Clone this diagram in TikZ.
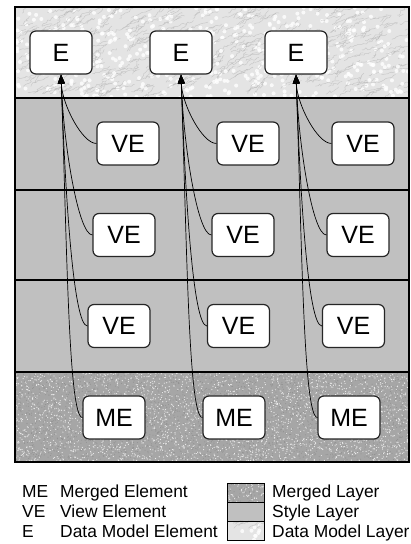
\documentclass[tikz,border=0pt]{standalone}
\usepackage{fontspec}
\setmainfont{Liberation Sans}
\usetikzlibrary{arrows.meta, decorations.pathmorphing}
\definecolor{styleGray}{HTML}{C0C0C0}
\definecolor{mergedGray}{HTML}{A6A6A6}
\definecolor{modelGray}{HTML}{E4E4E4}

% granite texture: x, y, width, height
\newcommand{\granitefill}[4]{%
  \fill[mergedGray] (#1,#2) rectangle ++(#3,#4);
  \begin{scope}
    \clip (#1,#2) rectangle ++(#3,#4);
    \pgfmathtruncatemacro{\ndots}{#3/12*#4}
    \foreach \k in {1,...,\ndots} {
      \fill[gray!15] ({#1+rnd*#3},{#2+rnd*#4}) circle (0.6pt);
      \fill[gray!85] ({#1+rnd*#3},{#2+rnd*#4}) circle (0.55pt);
    }
  \end{scope}}

% marble texture: x, y, width, height
\newcommand{\marblefill}[4]{%
  \fill[modelGray] (#1,#2) rectangle ++(#3,#4);
  \begin{scope}
    \clip (#1,#2) rectangle ++(#3,#4);
    \pgfmathtruncatemacro{\nveins}{#3/80*#4+1}
    \foreach \k in {1,...,\nveins} {
      \fill[white, opacity=0.8] ({#1+rnd*#3},{#2+rnd*#4}) circle (2pt);
      \draw[gray!65, line width=0.45pt, opacity=0.5, decorate,
            decoration={random steps, segment length=2pt, amplitude=1.2pt}]
        ({#1+rnd*#3},{#2+rnd*#4}) -- ++({rnd*20+4},{rnd*10+2});
    }
  \end{scope}}

\begin{document}
\begin{tikzpicture}[
    x=1pt, y=1pt,
    elem/.style={rectangle, draw=black!85, fill=white, line width=1.2pt, rounded corners=6pt,
                 minimum width=62pt, minimum height=43pt, inner sep=0pt,
                 font=\fontsize{25pt}{30pt}\selectfont},
    legtext/.style={anchor=base west, inner sep=0pt, font=\fontsize{17.4pt}{20pt}\selectfont},
    link/.style={-{Triangle[length=9pt, width=7pt]}, line width=0.7pt, out=180, in=-88, out distance=14pt},
    layerline/.style={line width=1.2pt, black}
]
    \useasboundingbox (0,0) rectangle (411,544);
    \pgfmathsetseed{11}

    % layers
    \marblefill{15}{446}{394}{91}
    \fill[styleGray] (15,172) rectangle (409,446);
    \granitefill{15}{82}{394}{90}
    \draw[layerline] (15,446) -- (409,446);
    \draw[layerline] (15,354) -- (409,354);
    \draw[layerline] (15,264) -- (409,264);
    \draw[layerline] (15,172) -- (409,172);
    \draw[layerline] (15,82) rectangle (409,537);

    % data model elements
    \node[elem] (e1) at (61,491.5) {E};
    \node[elem] (e2) at (181,491.5) {E};
    \node[elem] (e3) at (296,491.5) {E};

    % view elements
    \node[elem] (ve11) at (128,400.5) {VE};
    \node[elem] (ve12) at (248,400.5) {VE};
    \node[elem] (ve13) at (363,400.5) {VE};
    \node[elem] (ve21) at (124,309) {VE};
    \node[elem] (ve22) at (243,309) {VE};
    \node[elem] (ve23) at (358,309) {VE};
    \node[elem] (ve31) at (119,218) {VE};
    \node[elem] (ve32) at (238.5,218) {VE};
    \node[elem] (ve33) at (353.5,218) {VE};

    % merged elements
    \node[elem] (me1) at (114,126.5) {ME};
    \node[elem] (me2) at (234,126.5) {ME};
    \node[elem] (me3) at (349,126.5) {ME};

    \draw[link, in distance=30pt] (ve11.west) to (e1.south);
    \draw[link, in distance=70pt] (ve21.west) to (e1.south);
    \draw[link, in distance=120pt] (ve31.west) to (e1.south);
    \draw[link, in distance=170pt] (me1.west) to (e1.south);
    \draw[link, in distance=30pt] (ve12.west) to (e2.south);
    \draw[link, in distance=70pt] (ve22.west) to (e2.south);
    \draw[link, in distance=120pt] (ve32.west) to (e2.south);
    \draw[link, in distance=170pt] (me2.west) to (e2.south);
    \draw[link, in distance=30pt] (ve13.west) to (e3.south);
    \draw[link, in distance=70pt] (ve23.west) to (e3.south);
    \draw[link, in distance=120pt] (ve33.west) to (e3.south);
    \draw[link, in distance=170pt] (me3.west) to (e3.south);

    % legend
    \node[legtext] (kme) at (22,46) {ME};
    \node[legtext] (kve) at (22,26) {VE};
    \node[legtext] (ke) at (22,6) {E};
    \node[legtext] (kmet) at (60,46) {Merged Element};
    \node[legtext] (kvet) at (60,26) {View Element};
    \node[legtext] (ket) at (60,6) {Data Model Element};

    \granitefill{227}{42}{37}{19}
    \fill[styleGray] (227,23) rectangle (264,42);
    \marblefill{227}{4}{37}{19}
    \draw[line width=0.8pt] (227,4) rectangle (264,61);
    \draw[line width=0.8pt] (227,23) -- (264,23);
    \draw[line width=0.8pt] (227,42) -- (264,42);
    \node[legtext] (kml) at (272,46) {Merged Layer};
    \node[legtext] (ksl) at (272,26) {Style Layer};
    \node[legtext] (kdl) at (272,6) {Data Model Layer};
\end{tikzpicture}
\end{document}
